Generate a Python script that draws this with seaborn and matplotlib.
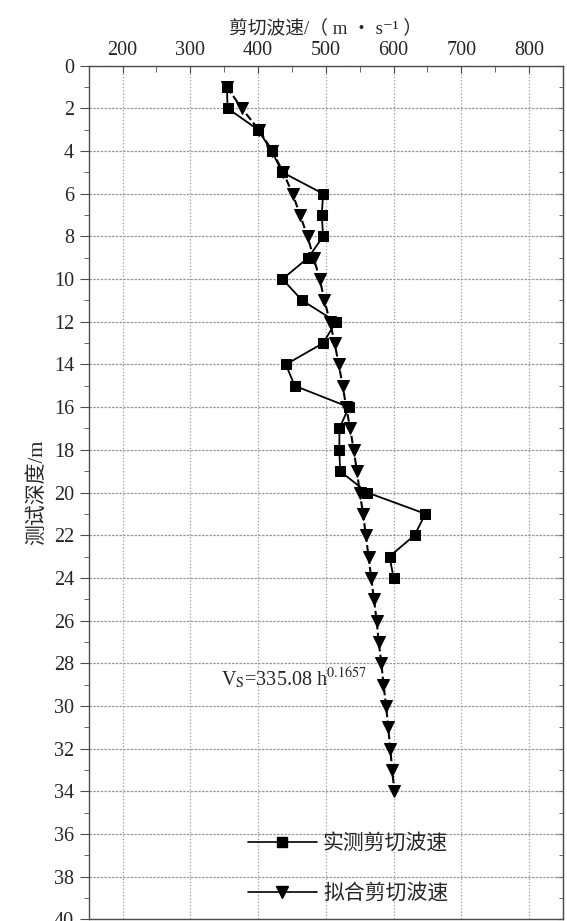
import pandas as pd
import matplotlib
matplotlib.use('Agg')
import matplotlib.pyplot as plt
from matplotlib.lines import Line2D
from matplotlib.ticker import MultipleLocator
import seaborn as sns

# values
depth_measured = list(range(1, 25))
vs_measured = [354, 355, 400, 420, 436, 496, 494, 496, 474, 436, 465, 515,
               496, 441, 454, 534, 520, 520, 521, 561, 647, 631, 594, 600]
depth_fitted = list(range(1, 35))
vs_fitted = [354, 376, 401, 421, 437, 451, 462, 473, 482, 491, 498, 506,
             513, 519, 525, 530, 536, 541, 546, 550, 555, 559, 563, 567,
             571, 575, 578, 582, 585, 589, 592, 595, 598, 601]
legend_labels = ['实测剪切波速', '拟合剪切波速']

df_meas = pd.DataFrame({'vs': vs_measured, 'depth': depth_measured})
df_fit = pd.DataFrame({'vs': vs_fitted, 'depth': depth_fitted})

sns.set_style('ticks')
fonts = ['Liberation Serif', 'Noto Sans CJK SC', 'DejaVu Sans']
plt.rcParams['font.family'] = fonts
plt.rcParams['mathtext.fontset'] = 'stix'
plt.rcParams['axes.unicode_minus'] = False

fig = plt.figure(figsize=(5.67, 9.21), dpi=100)
ax = fig.add_axes([0.1564, 0.0018, 0.8365, 0.9269])

############### 1. LINES
sns.lineplot(data=df_fit, x='vs', y='depth', sort=False, estimator=None, ax=ax,
             color='black', linestyle='--', lw=1.5, marker='v', markersize=8.5,
             markeredgecolor='black', zorder=3)
sns.lineplot(data=df_meas, x='vs', y='depth', sort=False, estimator=None, ax=ax,
             color='black', lw=1.3, marker='s', markersize=7.5,
             markeredgecolor='black', zorder=4)

############### 2. AXES
ax.set_xlim(150, 850)
ax.set_ylim(40, 0)
ax.xaxis.tick_top()
ax.xaxis.set_label_position('top')
ax.xaxis.set_major_locator(MultipleLocator(100))
ax.xaxis.set_minor_locator(MultipleLocator(50))
ax.yaxis.set_major_locator(MultipleLocator(2))
ax.yaxis.set_minor_locator(MultipleLocator(1))

ax.tick_params(axis='x', which='both', direction='in', top=True, bottom=False,
               labelsize=14.5, pad=4, color='0.3')
ax.tick_params(axis='x', which='major', length=5)
ax.tick_params(axis='x', which='minor', length=4)
ax.tick_params(axis='y', which='both', direction='out', left=True, right=False,
               labelsize=14.5, pad=4, color='0.3')
ax.tick_params(axis='y', which='major', length=6.5)
ax.tick_params(axis='y', which='minor', length=3.5)

# inward ticks on the right side
sec = ax.secondary_yaxis('right')
sec.yaxis.set_major_locator(MultipleLocator(2))
sec.yaxis.set_minor_locator(MultipleLocator(1))
sec.tick_params(which='both', direction='in', labelright=False, color='0.3')
sec.tick_params(which='major', length=4)
sec.tick_params(which='minor', length=3)
sec.spines['right'].set_color('0.3')

for sp in ax.spines.values():
    sp.set_visible(True)
    sp.set_color('0.3')
    sp.set_linewidth(1.0)

ax.xaxis.grid(True, which='major', linestyle=':', color='0.6', lw=0.9)
ax.yaxis.grid(True, which='major', linestyle=(0, (2, 1)), color='0.6', lw=0.9)
ax.set_axisbelow(True)

ax.set_xlabel('剪切波速/（ m ・ s⁻¹ ）', fontsize=13.5, labelpad=6, family=fonts)
ax.set_ylabel('测试深度/m', fontsize=15, labelpad=5, family=fonts)

# fitted equation
ax.text(345, 29.05, r'V$_\mathrm{S}$=335.08 h$^{0.1657}$', fontsize=14.5,
        va='baseline', ha='left')

############### 3. LEGEND
handles = [Line2D([], [], color='black', marker='s', markersize=7.5, lw=1.2),
           Line2D([], [], color='black', marker='v', markersize=8.5, lw=1.2)]
ax.legend(handles, legend_labels, loc='center', bbox_to_anchor=(0.547, 0.059),
          frameon=False, fontsize=15, handlelength=3.3, handletextpad=0.3,
          labelspacing=1.45, borderpad=0)

fig.savefig('out.png', dpi=100, facecolor='white')
plt.close(fig)
